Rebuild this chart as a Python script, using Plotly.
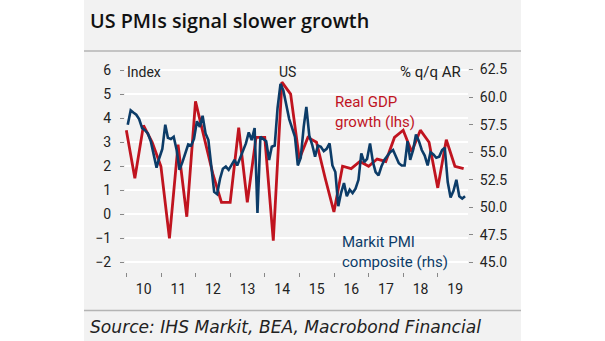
import pandas as pd
import plotly.graph_objects as go

# ---------------- data ----------------
gdp_start_quarter = "2009Q4"
gdp_growth = [3.5, 1.5, 3.7, 3.0, 2.0,
              -1.0, 2.9, -0.1, 4.7,
              3.2, 1.7, 0.5, 0.5,
              3.6, 0.5, 3.2, 3.2,
              -1.1, 5.5, 5.0, 2.3,
              3.2, 3.0, 1.5, 0.1,
              2.0, 1.9, 2.2, 2.0,
              2.3, 2.2, 3.2, 3.5,
              2.6, 3.5, 3.0, 1.1,
              3.1, 2.0, 1.9]

pmi_start_month = "2010-01"
pmi_composite = [57.5, 58.8, 58.6, 58.4, 58.0, 57.2, 57.0, 56.7, 56.0, 54.8, 53.6, 54.5,
                 55.3, 57.5, 56.3, 56.2, 56.4, 55.2, 53.4, 54.1, 54.9, 55.7, 55.6, 56.2,
                 57.8, 57.3, 58.3, 56.7, 56.1, 53.7, 51.4, 51.2, 52.6, 53.5, 53.7, 53.4,
                 53.9, 54.3, 53.8, 54.5, 55.1, 55.8, 56.8, 56.1, 57.2, 49.5, 56.4, 56.2,
                 56.0, 54.3, 55.5, 55.6, 59.0, 61.2, 60.6, 59.3, 58.0, 57.2, 56.4, 53.8,
                 54.5, 57.3, 59.1, 56.5, 55.7, 54.6, 55.6, 55.5, 55.1, 55.3, 55.8, 53.8,
                 53.2, 50.1, 51.3, 52.2, 51.0, 51.6, 51.3, 51.7, 52.5, 54.9, 54.1, 54.4,
                 55.8, 54.1, 53.2, 52.9, 53.7, 54.3, 54.6, 55.0, 55.2, 54.6, 54.0, 53.8,
                 53.8, 56.0, 54.3, 55.2, 56.6, 56.0, 55.2, 54.7, 53.8, 55.0, 54.8, 54.5,
                 54.6, 55.2, 55.4, 52.3, 50.9, 51.5, 52.5, 51.0, 50.8, 51.0]

left_ticks = [-2, -1, 0, 1, 2, 3, 4, 5, 6]
right_ticks = [45.0, 47.5, 50.0, 52.5, 55.0, 57.5, 60.0, 62.5]

title_text = "US PMIs signal slower growth"
source_text = "Source: IHS Markit, BEA, Macrobond Financial"

# ---------------- dates ----------------
gdp_dates = [p.end_time.strftime("%Y-%m-%d")
             for p in pd.period_range(gdp_start_quarter, periods=len(gdp_growth), freq="Q")]
pmi_dates = [(p.to_timestamp() + pd.Timedelta(days=14)).strftime("%Y-%m-%d")
             for p in pd.period_range(pmi_start_month, periods=len(pmi_composite), freq="M")]

RED = "#c0141f"
BLUE = "#0c3c68"
PANEL = "#f2f2f2"

W, H = 605, 341
L, R, T, B = 125, 137, 60, 69
PW, PH = W - L - R, H - T - B


def px_x(px):
    return (px - L) / PW


def px_y(py):
    return (H - B - py) / PH


fig = go.Figure()
fig.add_trace(go.Scatter(x=pmi_dates, y=pmi_composite, yaxis="y2", mode="lines",
                         line=dict(color=BLUE, width=2.6), showlegend=False))
fig.add_trace(go.Scatter(x=gdp_dates, y=gdp_growth, yaxis="y", mode="lines",
                         line=dict(color=RED, width=2.8), showlegend=False))

tickfont = dict(family="Roboto, sans-serif", size=14, color="#222222")

fig.update_layout(
    width=W, height=H,
    margin=dict(l=L, r=R, t=T, b=B),
    paper_bgcolor="white",
    plot_bgcolor="rgba(0,0,0,0)",
    xaxis=dict(type="date", range=["2009-12-17", "2019-11-15"],
               tick0="2010-01-01", dtick="M12", tickformat="%y",
               ticklabelmode="period", ticks="outside", ticklen=4,
               tickcolor="#888888", tickwidth=1, showgrid=False,
               zeroline=False, showline=False, tickfont=tickfont),
    yaxis=dict(range=[-2.40, 6.42], tickvals=left_ticks, ticks="outside",
               ticklen=4, tickcolor="#888888", showgrid=True,
               gridcolor="white", gridwidth=1.5, zeroline=False,
               showline=False, tickfont=tickfont, ticklabelstandoff=6),
    yaxis2=dict(range=[44.14, 63.36], tickvals=right_ticks, tickformat=".1f",
                overlaying="y", side="right", ticks="outside", ticklen=4,
                tickcolor="#888888", showgrid=False, zeroline=False,
                showline=False, tickfont=tickfont, ticklabelstandoff=4),
)

shapes = [
    dict(type="rect", xref="paper", yref="paper", x0=px_x(84), x1=px_x(521),
         y0=px_y(H), y1=px_y(0), fillcolor=PANEL, line=dict(width=0), layer="below"),
    dict(type="line", xref="paper", yref="paper", x0=px_x(84), x1=px_x(521),
         y0=px_y(51), y1=px_y(51), line=dict(color="#b4b4b4", width=1.5)),
    dict(type="line", xref="paper", yref="paper", x0=px_x(84), x1=px_x(521),
         y0=px_y(310.5), y1=px_y(310.5), line=dict(color="#b4b4b4", width=1.5)),
    dict(type="line", xref="paper", yref="y", x0=0, x1=1, y0=0, y1=0,
         line=dict(color="#333333", width=1.2, dash="dot"), layer="below"),
]
fig.update_layout(shapes=shapes)

ann_font = dict(family="Roboto, sans-serif", size=14, color="#222222")
annotations = [
    dict(text=title_text, x=px_x(88), y=px_y(20), xanchor="left", yanchor="middle",
         font=dict(family="Open Sans, sans-serif", size=19.8, color="#111111", weight=600)),
    dict(text=source_text, x=px_x(88), y=px_y(327), xanchor="left", yanchor="middle",
         font=dict(family="DejaVu Sans, sans-serif", size=17.1, color="#222222", style="italic")),
    dict(text="Index", x=px_x(125), y=px_y(72), xanchor="left", yanchor="middle", font=ann_font),
    dict(text="US", x=px_x(287), y=px_y(72), xanchor="center", yanchor="middle", font=ann_font),
    dict(text="% q/q AR", x=px_x(463), y=px_y(72), xanchor="right", yanchor="middle",
         font=dict(family="Roboto, sans-serif", size=15, color="#222222")),
    dict(text="Real GDP<br>growth (lhs)", x=px_x(333), y=px_y(91), xanchor="left",
         yanchor="top", align="left", font=dict(family="Roboto, sans-serif", size=15, color=RED)),
    dict(text="Markit PMI<br>composite (rhs)", x=px_x(340), y=px_y(231), xanchor="left",
         yanchor="top", align="left", font=dict(family="Roboto, sans-serif", size=15, color=BLUE)),
]
for a in annotations:
    a.update(xref="paper", yref="paper", showarrow=False)
fig.update_layout(annotations=annotations)

fig.write_html("out.html")
